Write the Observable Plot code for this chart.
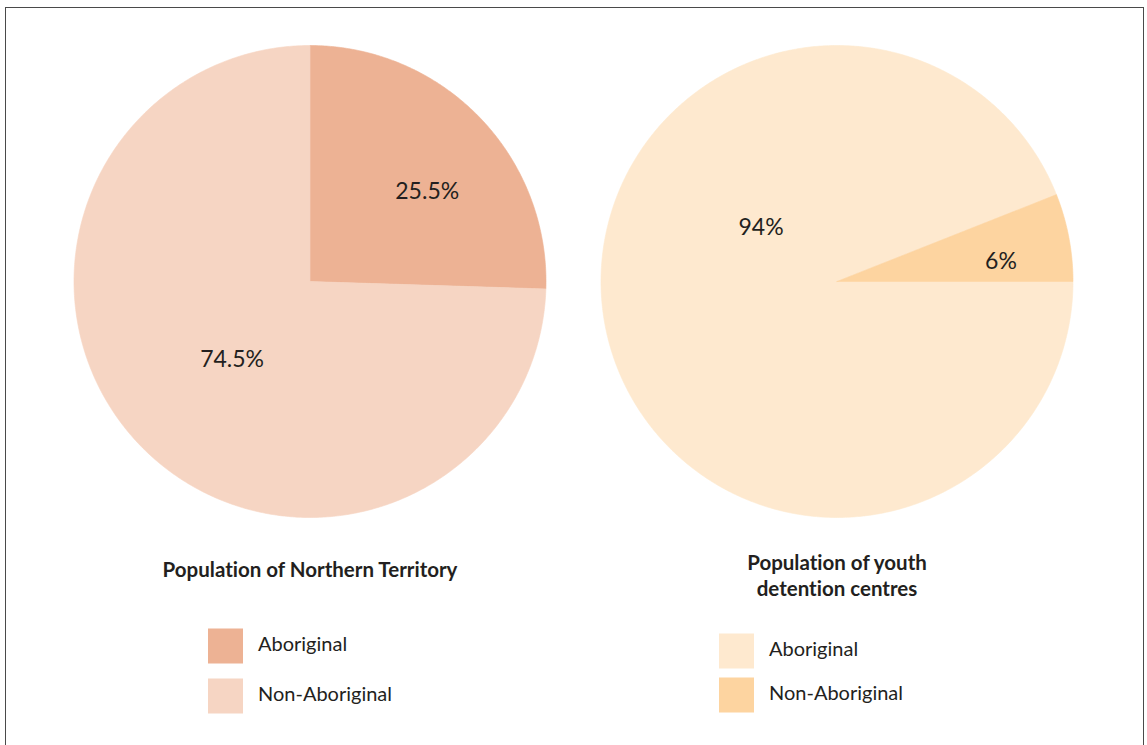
<!DOCTYPE html>
<html><head><meta charset="utf-8">
<script src="https://cdn.jsdelivr.net/npm/d3@7"></script>
<script src="https://cdn.jsdelivr.net/npm/@observablehq/plot@0.6"></script>
<style>
body{margin:0;background:#fff;}
#wrap{position:relative;width:1147px;height:745px;overflow:hidden;}
#border{position:absolute;left:5px;top:7px;width:1137px;height:800px;border:1.3px solid #4a4a4a;}
#chart{position:absolute;left:0;top:0;}
svg text{font-variant-ligatures:none;font-feature-settings:"liga" 0;}
</style></head><body>
<div id="wrap"><div id="border"></div><div id="chart"></div></div>
<script>
// ---- data ----
const pieIds = ["nt", "youth"];
const pieTitles = ["Population of Northern Territory", "Population of youth\ndetention centres"];
const categories = ["Aboriginal", "Non-Aboriginal"];
const ntValues = [25.5, 74.5];
const youthValues = [94, 6];
const ntLabels = ["25.5%", "74.5%"];
const youthLabels = ["94%", "6%"];

// ---- styles / layout (not data) ----
const palette = {nt: ["#EDB294", "#F6D5C3"], youth: ["#FEE9CF", "#FDD4A0"]};
const startAngles = {nt: 0, youth: Math.PI / 2};
// label placement: radius fraction, angle shift (deg) from slice mid-angle
const labelPlace = {nt: [[0.626, 6.6], [0.467, -0.9]], youth: [[0.395, 46.2], [0.70, 3.8]]};
const titleDy = {nt: 41, youth: 34};
const legendLayout = {nt: {sx: -84.5, tx: -52, dy: [128.5, 178.5]}, youth: {sx: -100.5, tx: -68, dy: [133.5, 177.5]}};
const textColor = "#231f20";
const fontFamily = "Lato, 'Open Sans', sans-serif";

const seriesValues = {nt: ntValues, youth: youthValues};
const seriesLabels = {nt: ntLabels, youth: youthLabels};

const slicePoints = [];
const labelRows = [];
pieIds.forEach(pid => {
  const s0 = startAngles[pid];
  const arcs = d3.pie().sort(null).startAngle(s0).endAngle(s0 + 2 * Math.PI)(seriesValues[pid]);
  arcs.forEach((a, i) => {
    const key = pid + "-" + i;
    const color = palette[pid][i];
    const n = Math.max(2, Math.ceil((a.endAngle - a.startAngle) / (Math.PI / 360)));
    slicePoints.push({pie: pid, key, color, x: 0, y: 0});
    for (let k = 0; k <= n; k++) {
      const t = a.startAngle + (a.endAngle - a.startAngle) * k / n;
      slicePoints.push({pie: pid, key, color, x: Math.sin(t), y: Math.cos(t)});
    }
    slicePoints.push({pie: pid, key, color, x: 0, y: 0});
    const [r, shift] = labelPlace[pid][i];
    const mid = (a.startAngle + a.endAngle) / 2 + shift * Math.PI / 180;
    labelRows.push({pie: pid, text: seriesLabels[pid][i], x: r * Math.sin(mid), y: r * Math.cos(mid)});
  });
});

const marks = [
  Plot.line(slicePoints, {x: "x", y: "y", z: "key", fx: "pie", fill: "color", stroke: "color", strokeWidth: 0.6, curve: "linear"}),
  Plot.text(labelRows, {x: "x", y: "y", fx: "pie", text: "text", fontSize: 23, fill: textColor, fontFamily})
];
pieIds.forEach((pid, p) => {
  marks.push(Plot.text([{pie: pid, t: pieTitles[p]}], {fx: "pie", text: "t", frameAnchor: "bottom", dy: titleDy[pid], lineAnchor: "top", fontSize: 20.5, fontWeight: 700, lineHeight: 1.27, fill: textColor, fontFamily}));
  const L = legendLayout[pid];
  categories.forEach((c, i) => {
    marks.push(Plot.dot([{pie: pid, c}], {fx: "pie", frameAnchor: "bottom", dx: L.sx, dy: L.dy[i], symbol: "square", r: 35 / Math.sqrt(Math.PI), fill: palette[pid][i], stroke: "none"}));
    marks.push(Plot.text([{pie: pid, c}], {fx: "pie", text: "c", frameAnchor: "bottom", dx: L.tx, dy: L.dy[i] - 1, textAnchor: "start", lineAnchor: "middle", fontSize: 20, fill: textColor, fontFamily}));
  });
});

const chart = Plot.plot({
  width: 1147, height: 745,
  marginTop: 45, marginBottom: 228, marginLeft: 46, marginRight: 47,
  style: {background: "transparent", fontFamily},
  fx: {domain: pieIds, padding: 0, axis: null},
  x: {domain: [-1, 1], axis: null, insetLeft: 27.5, insetRight: 27.5},
  y: {domain: [-1, 1], axis: null},
  color: {type: "identity"},
  marks
});
document.getElementById("chart").appendChild(chart);
</script>
</body></html>
